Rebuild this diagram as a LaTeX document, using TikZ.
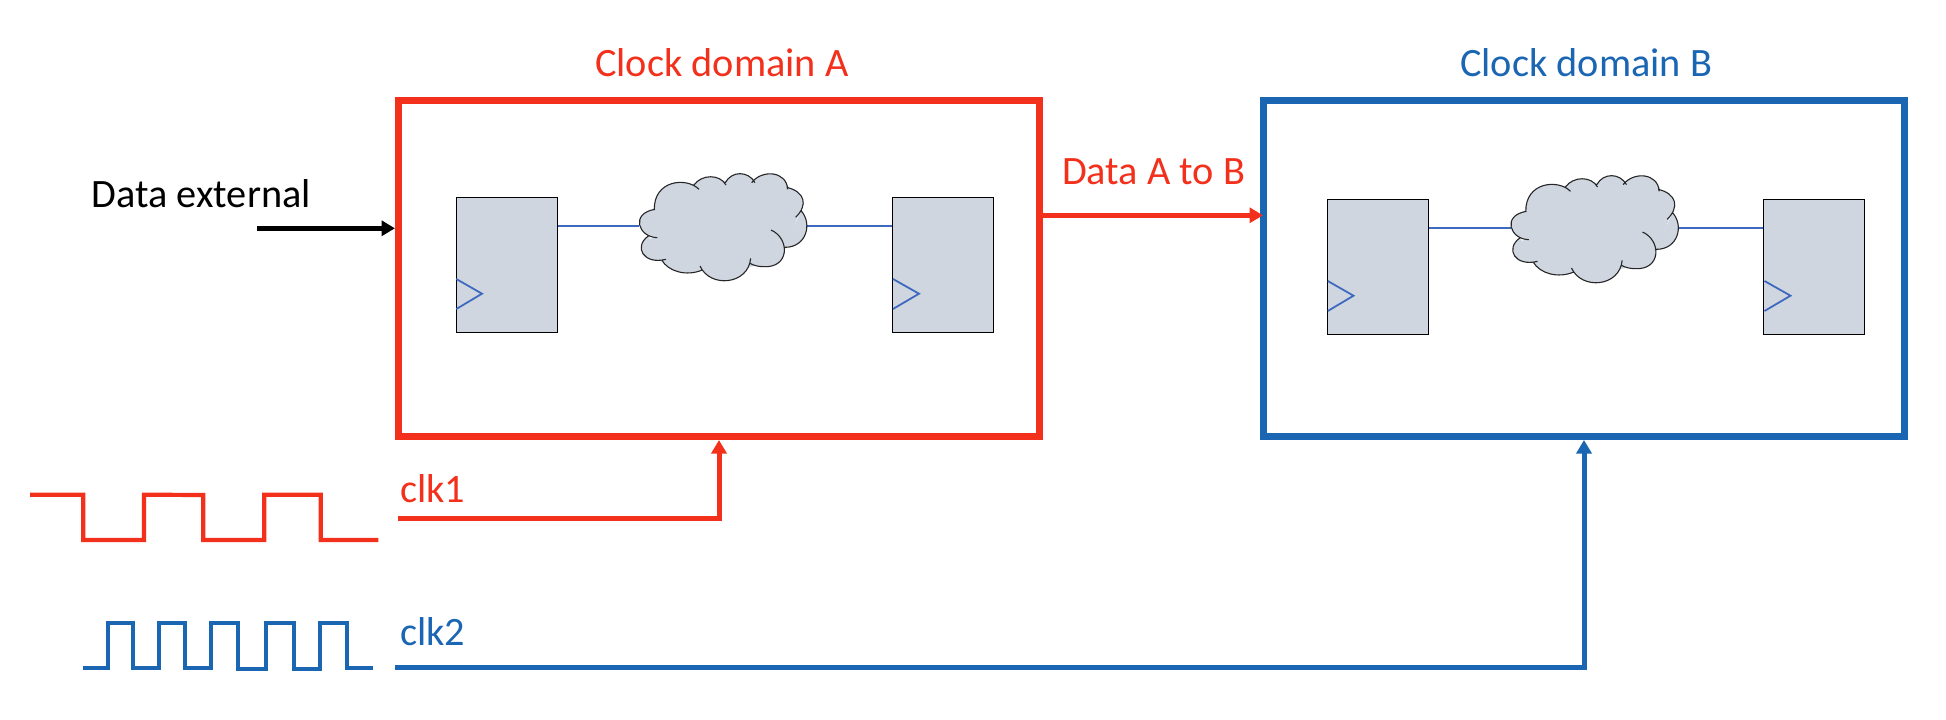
\documentclass[tikz,border=0pt]{standalone}
\usepackage{fontspec}
\setmainfont{Carlito}
\usetikzlibrary{arrows.meta}
\definecolor{redc}{HTML}{F2301C}
\definecolor{bluec}{HTML}{1B66B3}
\definecolor{wirec}{HTML}{3F69BE}
\definecolor{fillc}{HTML}{CFD6E0}
\tikzset{
  x=1pt,y=-1pt,
  lbl/.style={font=\fontsize{40.3}{44}\selectfont,inner sep=0pt,anchor=base west},
  domainbox/.style={draw=#1,line width=7pt,inner sep=0pt},
  flop/.style={draw=black,line width=1.1pt,fill=fillc,inner sep=0pt,minimum width=101pt,minimum height=135pt},
  wire/.style={draw=wirec,line width=2.1pt},
  wave/.style={draw=#1,line width=4.2pt,miter limit=10},
  link/.style={draw=#1,line width=5pt,-{Triangle[length=13.5pt,width=15pt]}},
  lobe/.style={draw=black!85,line width=1.1pt},
}
\newcommand{\cloudlobe}[1]{\fill[fillc] #1 -- cycle; \draw[lobe] #1;}
\newcommand{\cloudshape}{%
  \fill[fillc] (100,233) -- (95,148) -- (222,70) -- (318,62) -- (400,58) -- (503,75) -- (535,165) -- (500,262) -- (450,310) -- (392,320) -- (240,330) -- (125,305) -- (85,240) -- cycle;
  \fill[fillc] (112,233) .. controls (55,232) and (30,160) .. (105,148) -- cycle;
  \fill[fillc] (103,150) .. controls (100,60) and (200,50) .. (237,88) -- cycle;
  \fill[fillc] (222,75) .. controls (245,42) and (300,42) .. (318,75) -- cycle;
  \fill[fillc] (316,68) .. controls (335,32) and (385,32) .. (405,68) -- cycle;
  \fill[fillc] (395,68) .. controls (425,28) and (500,32) .. (503,88) -- cycle;
  \fill[fillc] (500,82) .. controls (555,95) and (565,135) .. (527,172) -- cycle;
  \fill[fillc] (543,152) .. controls (578,190) and (560,262) .. (495,262) -- cycle;
  \fill[fillc] (453,210) .. controls (510,235) and (510,325) .. (430,320) .. controls (415,320) and (400,316) .. (390,310) -- cycle;
  \fill[fillc] (392,295) .. controls (385,375) and (270,385) .. (240,318) -- cycle;
  \fill[fillc] (247,330) .. controls (200,350) and (145,335) .. (125,300) -- cycle;
  \fill[fillc] (138,298) .. controls (70,315) and (40,260) .. (85,228) -- cycle;
  \draw[lobe]
  (112,233) .. controls (55,232) and (30,160) .. (105,148)
  (103,150) .. controls (100,60) and (200,50) .. (237,88)
  (222,75) .. controls (245,42) and (300,42) .. (318,75)
  (316,68) .. controls (335,32) and (385,32) .. (405,68)
  (395,68) .. controls (425,28) and (500,32) .. (503,88)
  (500,82) .. controls (555,95) and (565,135) .. (527,172)
  (543,152) .. controls (578,190) and (560,262) .. (495,262)
  (453,210) .. controls (510,235) and (510,325) .. (430,320) .. controls (415,320) and (400,316) .. (390,310)
  (392,295) .. controls (385,375) and (270,385) .. (240,318)
  (247,330) .. controls (200,350) and (145,335) .. (125,300)
  (138,298) .. controls (70,315) and (40,260) .. (85,228);
}
\newcommand{\innerlogic}[3]{%
  \begin{scope}[shift={(#2,#3)}]
    \node[flop] (#1ff1) at (506.8,264.7) {};
    \node[flop] (#1ff2) at (942.6,264.7) {};
    \coordinate (#1cl) at (639,225.7);
    \coordinate (#1cr) at (807,226);
    \draw[wire] (#1ff1.east |- #1cl) -- (#1cl);
    \draw[wire] (#1cr) -- (#1ff2.west |- #1cr);
    \begin{scope}[shift={(620,160)},x=0.3333pt,y=-0.3333pt]\cloudshape\end{scope}
    \coordinate (#1t1a) at (456.3,279);
    \coordinate (#1t1b) at (482,293.7);
    \coordinate (#1t1c) at (456.3,309);
    \coordinate (#1t2a) at (893,279);
    \coordinate (#1t2b) at (919,293.7);
    \coordinate (#1t2c) at (893,309);
    \draw[wire,line width=1.8pt] (#1t1a) -- (#1t1b) -- (#1t1c);
    \draw[wire,line width=1.8pt] (#1t2a) -- (#1t2b) -- (#1t2c);
  \end{scope}
}
\begin{document}
\begin{tikzpicture}
\useasboundingbox (0,0) rectangle (1946,720);
\node[domainbox=redc,minimum width=641pt,minimum height=336pt] (boxA) at (719,268.5) {};
\node[domainbox=bluec,minimum width=641pt,minimum height=336pt] (boxB) at (1584,268.5) {};
\node[lbl,text=redc] (titleA) at (595,76) {Clock domain A};
\node[lbl,text=bluec] (titleB) at (1460,76) {Clock domain B};
\node[lbl,text=black] (ext) at (91.5,207) {Data external};
\node[lbl,text=redc] (dab) at (1062,184.5) {Data A to B};
\node[lbl,text=redc] (clkA) at (400,502.5) {clk1};
\node[lbl,text=bluec] (clkB) at (400,645) {clk2};
\innerlogic{a}{0}{0}
\innerlogic{b}{871.5}{2}
\coordinate (extS) at (257,228.3);
\coordinate (dabS) at (1043,215.3);
\coordinate (c1S) at (398,518);
\coordinate (c2S) at (395,667.7);
\coordinate (c1B) at (719,440);
\coordinate (c2B) at (1584,440);
\draw[link=black] (extS) -- (extS -| boxA.west);
\draw[link=redc] (dabS) -- ([xshift=3pt]dabS -| boxB.west);
\draw[link=redc] (c1S) -| (c1B);
\draw[link=bluec] (c2S) -| (c2B);
\draw[wave=redc] (30,494.7) -- (83.3,494.7) -- (83.3,540) -- (144,540) -- (144,494.7) -- (203.3,495) -- (203.3,540) -- (264.3,540) -- (264.3,494.7) -- (320.7,494.7) -- (320.7,540) -- (378.3,540);
\draw[wave=bluec] (83,667.7) -- (108.3,667.7) -- (108.3,623) -- (133.3,623) -- (133.3,668.3) -- (159.3,668.3) -- (159.3,623) -- (185.3,623) -- (185.3,667.7) -- (211.3,667.7) -- (211.3,623) -- (238.3,623) -- (238.3,668.7) -- (265.7,668.7) -- (265.7,623) -- (293.7,623) -- (293.7,668.7) -- (320.3,668.7) -- (320.3,623) -- (346.7,623) -- (346.7,667.7) -- (372.7,667.7);
\end{tikzpicture}
\end{document}
